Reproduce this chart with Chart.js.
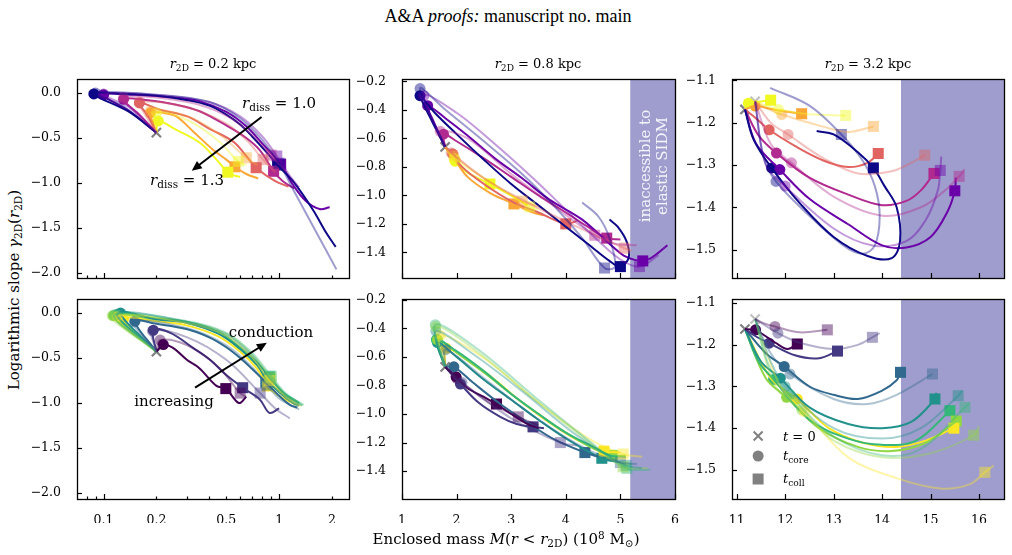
<!DOCTYPE html>
<html><head><meta charset="utf-8">
<script src="https://cdn.jsdelivr.net/npm/chart.js@4.4.1/dist/chart.umd.min.js"></script>
<style>
html,body{margin:0;padding:0;background:#fff;}
body{width:1012px;height:555px;position:relative;overflow:hidden;font-family:'DejaVu Serif',serif;color:#000;}
canvas{position:absolute;z-index:1;}
.t{position:absolute;white-space:nowrap;line-height:1;z-index:5;}
.c{transform:translate(-50%,-50%);}
.sb{font-size:0.7em;position:relative;top:0.3em;}
.sp{font-size:0.7em;position:relative;top:-0.45em;}
</style></head><body>
<div class="t c" style="left:508px;top:16px;font-family:'Liberation Serif',serif;font-size:18px;">A&amp;A <i>proofs:</i> manuscript no. main</div>
<div class="t c" style="left:213px;top:64px;font-size:13px;"><i>r</i><span class="sb">2D</span> = 0.2 kpc</div>
<div class="t c" style="left:538px;top:64px;font-size:13px;"><i>r</i><span class="sb">2D</span> = 0.8 kpc</div>
<div class="t c" style="left:868px;top:64px;font-size:13px;"><i>r</i><span class="sb">2D</span> = 3.2 kpc</div>
<div class="t" style="left:14px;top:290px;font-size:15px;transform:translate(-50%,-50%) rotate(-90deg);">Logarithmic slope <i>γ</i><span class="sb">2D</span>(<i>r</i><span class="sb">2D</span>)</div>
<div class="t c" style="left:506px;top:539px;font-size:15px;">Enclosed mass <i>M</i>(<i>r</i> &lt; <i>r</i><span class="sb">2D</span>) (10<span class="sp">8</span> M<span class="sb">⊙</span>)</div>
<div class="t c" style="left:279px;top:103px;font-size:15px;"><i>r</i><span class="sb">diss</span> = 1.0</div>
<div class="t c" style="left:187px;top:180px;font-size:15px;"><i>r</i><span class="sb">diss</span> = 1.3</div>
<div class="t c" style="left:271px;top:332px;font-size:15px;">conduction</div>
<div class="t c" style="left:174px;top:401px;font-size:15px;">increasing</div>
<div class="t" style="left:654px;top:166px;font-size:15px;color:#f4f4fb;text-align:center;line-height:1.15;transform:translate(-50%,-50%) rotate(-90deg);">inaccessible to<br>elastic SIDM</div>
<div class="t" style="left:783px;top:436px;font-size:13px;transform:translateY(-50%);"><i>t</i> = 0</div>
<div class="t" style="left:783px;top:456px;font-size:13px;transform:translateY(-50%);"><i>t</i><span class="sb">core</span></div>
<div class="t" style="left:783px;top:479px;font-size:13px;transform:translateY(-50%);"><i>t</i><span class="sb">coll</span></div>
<script>
// ---------- colours ----------
const plasma = ['#0d0887','#6a00a8','#b12a90','#e16462','#fca636','#f0f921'];
const viridis = ['#440154','#443983','#31688e','#21918c','#35b779','#90d743','#fde725'];

// ---------- tick values ----------
const xTicksLog = [0.1, 0.2, 0.5, 1, 2];
const xMinorLog = [0.08, 0.09, 0.2, 0.3, 0.4, 0.5, 0.6, 0.7, 0.8, 0.9, 2];
const xMajorLog = [0.1, 1];
const xTicksMid = [1, 2, 3, 4, 5, 6];
const xTicksRight = [11, 12, 13, 14, 15, 16];
const yTicksLeft = [0, -0.5, -1, -1.5, -2];
const yTicksMid = [-0.2, -0.4, -0.6, -0.8, -1.0, -1.2, -1.4];
const yTicksRight = [-1.1, -1.2, -1.3, -1.4, -1.5];

// ---------- r2D = 0.2 kpc, dissipation (top-left) ----------
const r02Start = [[0.2,-0.44]];
const r02Sim = [
 [[0.2,-0.44],[0.14,-0.21],[0.088,-0.01],[0.13,-0.01],[0.2,-0.03],[0.3,-0.08],[0.4,-0.14],[0.5,-0.24],[0.6,-0.35],[0.7,-0.48],[0.85,-0.66],[0.98,-0.8],[1.2,-0.98],[1.56,-1.3],[1.85,-1.55],[2.1,-1.71]],
 [[0.2,-0.44],[0.14,-0.2],[0.1,-0.02],[0.15,-0.02],[0.25,-0.05],[0.35,-0.09],[0.5,-0.21],[0.65,-0.37],[0.8,-0.56],[1.02,-0.79],[1.2,-1.02],[1.42,-1.2],[1.7,-1.29],[1.94,-1.27]],
 [[0.2,-0.44],[0.16,-0.24],[0.13,-0.07],[0.18,-0.08],[0.26,-0.13],[0.35,-0.2],[0.5,-0.36],[0.65,-0.5],[0.78,-0.64],[0.93,-0.87],[1.05,-0.98],[1.22,-1.06]],
 [[0.2,-0.44],[0.18,-0.26],[0.16,-0.11],[0.21,-0.185],[0.3,-0.26],[0.404,-0.4],[0.548,-0.54],[0.65,-0.7],[0.74,-0.83],[0.95,-0.98],[1.13,-1.04]],
 [[0.2,-0.44],[0.19,-0.32],[0.185,-0.22],[0.22,-0.22],[0.26,-0.26],[0.325,-0.43],[0.42,-0.63],[0.5,-0.74],[0.56,-0.82],[0.65,-0.9],[0.76,-0.95]],
 [[0.2,-0.44],[0.205,-0.31],[0.26,-0.41],[0.355,-0.556],[0.44,-0.74],[0.51,-0.88],[0.56,-0.92],[0.6,-0.93]]
];
const r02Model = [
 [[0.2,-0.44],[0.13,-0.15],[0.09,0.0],[0.2,-0.02],[0.4,-0.1],[0.6,-0.28],[0.8,-0.52],[1.0,-0.78],[1.2,-1.07],[1.56,-1.48],[2.12,-1.96]],
 [[0.2,-0.44],[0.14,-0.16],[0.1,-0.01],[0.2,-0.02],[0.4,-0.1],[0.6,-0.26],[0.8,-0.48],[0.97,-0.7],[1.15,-0.92],[1.3,-1.05]],
 [[0.2,-0.44],[0.15,-0.2],[0.13,-0.05],[0.3,-0.1],[0.5,-0.25],[0.7,-0.46],[0.9,-0.69],[1.1,-0.88]],
 [[0.2,-0.44],[0.17,-0.22],[0.16,-0.1],[0.3,-0.16],[0.5,-0.34],[0.65,-0.52],[0.81,-0.74],[0.95,-0.88]],
 [[0.2,-0.44],[0.185,-0.2],[0.3,-0.26],[0.45,-0.45],[0.65,-0.72],[0.75,-0.8]],
 [[0.2,-0.44],[0.2,-0.22],[0.3,-0.3],[0.45,-0.53],[0.585,-0.76],[0.65,-0.8]]
];
const r02CoreSim = [[0.088,-0.01],[0.1,-0.02],[0.13,-0.07],[0.16,-0.11],[0.185,-0.22],[0.205,-0.31]];
const r02CoreModel = [[0.09,0.0],[0.1,-0.01],[0.13,-0.05],[0.16,-0.1],[0.185,-0.2],[0.2,-0.22]];
const r02CollSim = [[0.98,-0.8],[1.02,-0.79],[0.93,-0.87],[0.74,-0.83],[0.56,-0.82],[0.51,-0.88]];
const r02CollModel = [[1.0,-0.78],[0.97,-0.7],[0.9,-0.69],[0.81,-0.74],[0.65,-0.72],[0.585,-0.76]];
const r02Arrow = [[0.794,-0.267,0.318,-0.863]];

// ---------- r2D = 0.8 kpc, dissipation (top-middle) ----------
const r08Start = [[1.79,-0.66]];
const r08Sim = [
 [[1.79,-0.66],[1.55,-0.48],[1.33,-0.3],[1.6,-0.42],[2.0,-0.57],[2.5,-0.75],[3.0,-0.92],[3.5,-1.07],[4.0,-1.22],[4.4,-1.34],[4.8,-1.46],[5.0,-1.5],[5.15,-1.44],[5.12,-1.33],[4.95,-1.22],[4.8,-1.17]],
 [[1.79,-0.66],[1.6,-0.5],[1.47,-0.37],[1.8,-0.46],[2.2,-0.58],[2.7,-0.74],[3.2,-0.88],[3.7,-1.03],[4.3,-1.17],[4.86,-1.36],[5.1,-1.43],[5.41,-1.46],[5.6,-1.43],[5.86,-1.35]],
 [[1.79,-0.66],[1.76,-0.57],[2.0,-0.62],[2.5,-0.74],[3.0,-0.87],[3.5,-1.0],[4.0,-1.12],[4.4,-1.22],[4.75,-1.3],[5.0,-1.31]],
 [[1.79,-0.66],[1.93,-0.71],[2.1,-0.8],[2.5,-0.92],[3.0,-1.04],[3.5,-1.12],[4.0,-1.2],[4.2,-1.18]],
 [[1.79,-0.66],[1.97,-0.75],[2.2,-0.87],[2.6,-0.98],[3.05,-1.06],[3.4,-1.12],[3.6,-1.14]],
 [[1.79,-0.66],[1.97,-0.76],[2.2,-0.84],[2.61,-0.92],[3.0,-1.0],[3.3,-1.07]]
];
const r08Model = [
 [[1.79,-0.66],[1.33,-0.25],[1.8,-0.4],[2.5,-0.62],[3.2,-0.85],[3.8,-1.08],[4.3,-1.3],[4.71,-1.51],[4.9,-1.5],[4.8,-1.3],[4.6,-1.15],[4.3,-1.05]],
 [[1.79,-0.66],[1.4,-0.3],[2.0,-0.42],[2.7,-0.64],[3.4,-0.88],[4.0,-1.1],[4.6,-1.32],[5.0,-1.45],[5.35,-1.5],[5.7,-1.42]],
 [[1.79,-0.66],[1.7,-0.55],[2.2,-0.6],[3.0,-0.85],[3.8,-1.08],[4.53,-1.28],[4.9,-1.34],[5.3,-1.35]],
 [[1.79,-0.66],[1.9,-0.7],[2.5,-0.88],[3.3,-1.05],[4.2,-1.22],[5.07,-1.37],[5.2,-1.39]],
 [[1.79,-0.66],[1.95,-0.72],[2.5,-0.88],[3.2,-1.04],[3.5,-1.08]],
 [[1.79,-0.66],[1.95,-0.74],[2.6,-0.9],[3.34,-1.08],[3.5,-1.1]]
];
const r08CoreSim = [[1.33,-0.3],[1.47,-0.37],[1.76,-0.57],[1.93,-0.71],[1.97,-0.75],[1.97,-0.76]];
const r08CoreModel = [[1.33,-0.25],[1.4,-0.3],[1.7,-0.55],[1.9,-0.7],[1.95,-0.72],[1.95,-0.74]];
const r08CollSim = [[5.0,-1.5],[5.41,-1.46],[4.75,-1.3],[4.0,-1.2],[3.05,-1.06],[2.61,-0.92]];
const r08CollModel = [[4.71,-1.51],[5.35,-1.5],[4.53,-1.28],[5.07,-1.37],[3.2,-1.04],[3.34,-1.08]];

// ---------- r2D = 3.2 kpc, dissipation (top-right) ----------
const r32Start = [[11.17,-1.169],[11.38,-1.15]];
const r32Sim = [
 [[11.17,-1.169],[11.35,-1.24],[11.72,-1.307],[12.3,-1.39],[13.0,-1.47],[13.7,-1.515],[14.2,-1.52],[14.37,-1.48],[14.3,-1.4],[14.05,-1.35],[13.82,-1.307],[13.5,-1.27],[13.0,-1.228],[12.65,-1.22]],
 [[11.17,-1.169],[11.4,-1.25],[11.89,-1.311],[12.5,-1.38],[13.3,-1.44],[14.0,-1.49],[14.5,-1.495],[15.0,-1.47],[15.35,-1.41],[15.5,-1.361],[15.52,-1.33]],
 [[11.17,-1.169],[11.45,-1.23],[11.82,-1.272],[12.5,-1.33],[13.3,-1.37],[14.0,-1.395],[14.5,-1.385],[14.8,-1.36],[15.07,-1.32]],
 [[11.17,-1.169],[11.4,-1.19],[11.67,-1.217],[12.2,-1.255],[12.8,-1.29],[13.3,-1.305],[13.7,-1.295],[13.92,-1.273]],
 [[11.17,-1.169],[11.38,-1.161],[11.8,-1.17],[12.34,-1.179]],
 [[11.17,-1.169],[11.24,-1.154],[11.5,-1.15],[11.7,-1.147]]
];
const r32Model = [
 [[11.38,-1.15],[11.55,-1.28],[11.81,-1.339],[12.5,-1.42],[13.2,-1.49],[13.6,-1.51],[13.85,-1.49],[13.95,-1.42],[13.85,-1.35],[13.6,-1.29],[13.16,-1.228],[12.5,-1.16],[11.69,-1.118]],
 [[11.38,-1.15],[11.6,-1.3],[12.0,-1.35],[13.0,-1.45],[13.8,-1.49],[14.5,-1.48],[14.9,-1.43],[15.15,-1.36],[15.2,-1.313],[15.22,-1.28]],
 [[11.38,-1.15],[11.7,-1.25],[12.13,-1.295],[13.0,-1.375],[14.0,-1.42],[14.8,-1.4],[15.3,-1.36],[15.59,-1.327],[15.7,-1.31]],
 [[11.38,-1.15],[11.7,-1.2],[12.06,-1.228],[12.8,-1.285],[13.5,-1.32],[14.2,-1.315],[14.6,-1.295],[14.88,-1.277]],
 [[11.38,-1.15],[11.6,-1.165],[11.93,-1.181],[12.8,-1.21],[13.3,-1.222],[13.82,-1.209]],
 [[11.38,-1.15],[11.6,-1.16],[11.86,-1.169],[12.5,-1.18],[13.25,-1.183]]
];
const r32CoreSim = [[11.72,-1.307],[11.89,-1.311],[11.82,-1.272],[11.67,-1.217],[11.38,-1.161],[11.24,-1.154]];
const r32CoreModel = [[11.81,-1.339],[12.0,-1.35],[12.13,-1.295],[12.06,-1.228],[11.93,-1.181],[11.86,-1.169]];
const r32CollSim = [[13.82,-1.307],[15.5,-1.361],[15.07,-1.32],[13.92,-1.273],[12.34,-1.179],[11.7,-1.147]];
const r32CollModel = [[13.16,-1.228],[15.2,-1.313],[15.59,-1.327],[14.88,-1.277],[13.82,-1.209],[13.25,-1.183]];

// ---------- r2D = 0.2 kpc, conduction (bottom-left) ----------
const c02Start = [[0.2,-0.43]];
const c02Sim = [
 [[0.2,-0.43],[0.219,-0.35],[0.25,-0.39],[0.298,-0.52],[0.35,-0.61],[0.44,-0.81],[0.497,-0.84],[0.59,-1.0],[0.65,-0.93]],
 [[0.2,-0.43],[0.192,-0.19],[0.24,-0.22],[0.325,-0.39],[0.404,-0.52],[0.5,-0.69],[0.62,-0.83],[0.776,-0.96],[0.88,-1.11],[1.0,-1.06]],
 [[0.2,-0.43],[0.151,-0.09],[0.2,-0.12],[0.3,-0.18],[0.4,-0.27],[0.5,-0.38],[0.6,-0.5],[0.7,-0.62],[0.84,-0.77],[1.0,-0.92],[1.15,-1.02],[1.27,-1.05]],
 [[0.2,-0.43],[0.125,0.0],[0.2,-0.07],[0.3,-0.11],[0.45,-0.23],[0.6,-0.4],[0.75,-0.58],[0.85,-0.74],[1.0,-0.88],[1.2,-1.0],[1.3,-1.03]],
 [[0.2,-0.43],[0.12,-0.02],[0.2,-0.06],[0.3,-0.1],[0.45,-0.21],[0.6,-0.38],[0.75,-0.55],[0.88,-0.71],[1.05,-0.88],[1.3,-1.0]],
 [[0.2,-0.43],[0.114,-0.03],[0.2,-0.07],[0.3,-0.11],[0.45,-0.22],[0.6,-0.4],[0.75,-0.58],[0.87,-0.76],[1.05,-0.9],[1.3,-1.01]],
 [[0.2,-0.43],[0.13,-0.07],[0.2,-0.09],[0.3,-0.14],[0.45,-0.26],[0.6,-0.43],[0.75,-0.62],[0.86,-0.81],[1.0,-0.92],[1.25,-1.02]]
];
const c02Model = [
 [[0.2,-0.43],[0.21,-0.3],[0.3,-0.36],[0.45,-0.6],[0.6,-0.89],[0.65,-0.93]],
 [[0.2,-0.43],[0.19,-0.2],[0.3,-0.27],[0.5,-0.52],[0.78,-0.89],[0.95,-1.06],[1.15,-1.17]],
 [[0.2,-0.43],[0.15,-0.1],[0.3,-0.17],[0.5,-0.36],[0.7,-0.6],[0.85,-0.8],[1.0,-0.95],[1.3,-1.07]],
 [[0.2,-0.43],[0.12,-0.01],[0.3,-0.1],[0.5,-0.24],[0.7,-0.47],[0.88,-0.72],[1.1,-0.92],[1.35,-1.03]],
 [[0.2,-0.43],[0.115,-0.02],[0.3,-0.09],[0.5,-0.22],[0.7,-0.44],[0.9,-0.7],[1.1,-0.9],[1.38,-1.02]],
 [[0.2,-0.43],[0.112,-0.03],[0.3,-0.1],[0.5,-0.23],[0.7,-0.46],[0.9,-0.72],[1.1,-0.92],[1.36,-1.03]],
 [[0.2,-0.43],[0.12,-0.04],[0.3,-0.11],[0.5,-0.25],[0.7,-0.49],[0.88,-0.75],[1.1,-0.94],[1.33,-1.04]]
];
const c02CoreSim = [[0.219,-0.35],[0.192,-0.19],[0.151,-0.09],[0.125,0.0],[0.12,-0.02],[0.114,-0.03],[0.13,-0.07]];
const c02CoreModel = [[0.21,-0.3],[0.19,-0.2],[0.15,-0.1],[0.12,-0.01],[0.115,-0.02],[0.112,-0.03],[0.12,-0.04]];
const c02CollSim = [[0.497,-0.84],[0.62,-0.83],[0.84,-0.77],[0.85,-0.74],[0.88,-0.71],[0.87,-0.76],[0.86,-0.81]];
const c02CollModel = [[0.6,-0.89],[0.78,-0.89],[0.85,-0.8],[0.88,-0.72],[0.9,-0.7],[0.9,-0.72],[0.88,-0.75]];
const c02Arrow = [[0.332,-0.83,0.851,-0.33]];

// ---------- r2D = 0.8 kpc, conduction (bottom-middle) ----------
const c08Start = [[1.79,-0.67]];
const c08Sim = [
 [[1.79,-0.67],[1.99,-0.74],[2.2,-0.82],[2.5,-0.88],[2.73,-0.93],[3.0,-1.0],[3.3,-1.07],[3.5,-1.1]],
 [[1.79,-0.67],[2.07,-0.79],[2.4,-0.92],[2.8,-1.02],[3.1,-1.07],[3.4,-1.09],[3.6,-1.1]],
 [[1.79,-0.67],[1.95,-0.67],[2.3,-0.78],[2.8,-0.93],[3.3,-1.06],[3.8,-1.18],[4.35,-1.27],[4.6,-1.3]],
 [[1.79,-0.67],[1.65,-0.5],[2.0,-0.6],[2.5,-0.76],[3.0,-0.9],[3.5,-1.04],[4.0,-1.17],[4.66,-1.31],[5.0,-1.34]],
 [[1.79,-0.67],[1.63,-0.48],[2.0,-0.56],[2.5,-0.7],[3.0,-0.86],[3.5,-1.0],[4.0,-1.13],[4.5,-1.23],[4.81,-1.29],[5.1,-1.3]],
 [[1.79,-0.67],[1.65,-0.48],[2.0,-0.57],[2.5,-0.71],[3.0,-0.86],[3.5,-1.0],[4.0,-1.13],[4.5,-1.24],[4.85,-1.29],[5.1,-1.29]],
 [[1.79,-0.67],[1.81,-0.54],[2.2,-0.62],[2.7,-0.76],[3.2,-0.92],[3.7,-1.06],[4.2,-1.18],[4.7,-1.26],[5.0,-1.27]]
];
const c08Model = [
 [[1.79,-0.67],[2.0,-0.75],[2.6,-0.92],[3.13,-1.02],[3.5,-1.08]],
 [[1.79,-0.67],[2.1,-0.78],[3.0,-1.03],[3.9,-1.2],[4.2,-1.22]],
 [[1.79,-0.67],[1.8,-0.55],[2.5,-0.75],[3.5,-1.04],[4.4,-1.25],[5.0,-1.34],[5.3,-1.35]],
 [[1.79,-0.67],[1.62,-0.42],[2.3,-0.58],[3.2,-0.84],[4.2,-1.15],[5.1,-1.36],[5.4,-1.38]],
 [[1.79,-0.67],[1.61,-0.375],[2.4,-0.55],[3.4,-0.87],[4.4,-1.18],[5.12,-1.38],[5.55,-1.39]],
 [[1.79,-0.67],[1.62,-0.39],[2.4,-0.57],[3.4,-0.89],[4.4,-1.19],[5.05,-1.37],[5.5,-1.38]],
 [[1.79,-0.67],[1.7,-0.45],[2.5,-0.61],[3.5,-0.92],[4.5,-1.19],[5.05,-1.28],[5.4,-1.3]]
];
const c08CoreSim = [[1.99,-0.74],[2.07,-0.79],[1.95,-0.67],[1.65,-0.5],[1.63,-0.48],[1.65,-0.48],[1.81,-0.54]];
const c08CoreModel = [[2.0,-0.75],[2.1,-0.78],[1.8,-0.55],[1.62,-0.42],[1.61,-0.375],[1.62,-0.39],[1.7,-0.45]];
const c08CollSim = [[2.73,-0.93],[3.4,-1.09],[4.35,-1.27],[4.66,-1.31],[4.81,-1.29],[4.85,-1.29],[4.7,-1.26]];
const c08CollModel = [[3.13,-1.02],[3.9,-1.2],[5.0,-1.34],[5.1,-1.36],[5.12,-1.38],[5.05,-1.37],[5.05,-1.28]];

// ---------- r2D = 3.2 kpc, conduction (bottom-right) ----------
const c32Start = [[11.17,-1.162],[11.38,-1.138]];
const c32Sim = [
 [[11.17,-1.162],[11.28,-1.163],[11.39,-1.164],[11.8,-1.195],[12.05,-1.21],[12.25,-1.198]],
 [[11.17,-1.162],[11.4,-1.18],[11.67,-1.196],[12.2,-1.225],[12.7,-1.232],[13.08,-1.215]],
 [[11.17,-1.162],[11.6,-1.22],[11.98,-1.252],[12.5,-1.3],[13.0,-1.32],[13.5,-1.33],[14.0,-1.31],[14.3,-1.285],[14.38,-1.266]],
 [[11.17,-1.162],[11.5,-1.24],[11.9,-1.28],[12.5,-1.35],[13.3,-1.39],[14.0,-1.4],[14.6,-1.385],[15.09,-1.33],[15.12,-1.315]],
 [[11.17,-1.162],[11.45,-1.24],[11.76,-1.283],[12.5,-1.38],[13.3,-1.425],[14.0,-1.44],[14.7,-1.43],[15.4,-1.358]],
 [[11.17,-1.162],[11.6,-1.28],[12.03,-1.326],[12.7,-1.4],[13.5,-1.445],[14.2,-1.455],[14.9,-1.435],[15.53,-1.383]],
 [[11.17,-1.162],[11.7,-1.28],[12.25,-1.33],[12.9,-1.4],[13.6,-1.435],[14.3,-1.445],[14.9,-1.43],[15.48,-1.4]]
];
const c32Model = [
 [[11.38,-1.138],[11.6,-1.15],[11.79,-1.156],[12.3,-1.17],[12.87,-1.164]],
 [[11.38,-1.138],[11.85,-1.172],[12.3,-1.195],[13.0,-1.21],[13.5,-1.2],[13.8,-1.182],[13.95,-1.172]],
 [[11.38,-1.138],[11.7,-1.22],[12.1,-1.27],[13.0,-1.33],[13.7,-1.342],[14.3,-1.32],[15.04,-1.27]],
 [[11.38,-1.138],[11.7,-1.24],[12.0,-1.3],[13.0,-1.4],[14.0,-1.425],[14.8,-1.4],[15.57,-1.322],[15.65,-1.31]],
 [[11.38,-1.138],[11.7,-1.26],[12.1,-1.32],[13.0,-1.42],[14.0,-1.465],[14.8,-1.45],[15.71,-1.35],[15.8,-1.34]],
 [[11.38,-1.138],[11.8,-1.3],[12.34,-1.356],[13.0,-1.43],[14.0,-1.47],[15.0,-1.46],[15.89,-1.417],[16.0,-1.395]],
 [[11.38,-1.138],[11.9,-1.3],[12.4,-1.36],[13.3,-1.47],[14.3,-1.52],[15.2,-1.545],[15.8,-1.535],[16.12,-1.506],[16.3,-1.49]]
];
const c32CoreSim = [[11.39,-1.164],[11.67,-1.196],[11.98,-1.252],[11.9,-1.28],[11.76,-1.283],[12.03,-1.326],[12.25,-1.33]];
const c32CoreModel = [[11.79,-1.156],[11.85,-1.172],[12.1,-1.27],[12.0,-1.3],[12.1,-1.32],[12.34,-1.356],[12.4,-1.36]];
const c32CollSim = [[12.25,-1.198],[13.08,-1.215],[14.38,-1.266],[15.09,-1.33],[15.4,-1.358],[15.53,-1.383],[15.48,-1.4]];
const c32CollModel = [[12.87,-1.164],[13.8,-1.182],[15.04,-1.27],[15.57,-1.322],[15.71,-1.35],[15.89,-1.417],[16.12,-1.506]];

// ---------- helpers ----------
const SHADE = '#9f9dcd';
const GRAY = '#808080';
function rgba(hex, a){const n=parseInt(hex.slice(1),16);return `rgba(${n>>16&255},${n>>8&255},${n&255},${a})`;}
const pts = arr => arr.map(p => ({x:p[0], y:p[1]}));
function fmtY(v){ if(Math.abs(v)<1e-9) return '0.0'; return (v<0?'\u2212':'')+Math.abs(v).toFixed(1); }

const PL=50, PT=10, PR=10, PB=24;

const panelPlugin = {
  id:'panelDeco',
  beforeDatasetsDraw(chart){
    const o = chart.options.plugins.panelDeco; const a = chart.chartArea; const ctx = chart.ctx;
    if(o.shadeFrom!=null){
      const x0 = chart.scales.x.getPixelForValue(o.shadeFrom);
      ctx.save(); ctx.fillStyle = SHADE; ctx.fillRect(x0, a.top, a.right-x0, a.bottom-a.top); ctx.restore();
    }
  },
  afterDatasetsDraw(chart){
    const o = chart.options.plugins.panelDeco; const a = chart.chartArea; const ctx = chart.ctx;
    const xs = chart.scales.x, ys = chart.scales.y;
    ctx.save();
    (o.arrows||[]).forEach(ar=>{
      const x1=xs.getPixelForValue(ar[0]), y1=ys.getPixelForValue(ar[1]);
      const x2=xs.getPixelForValue(ar[2]), y2=ys.getPixelForValue(ar[3]);
      const ang=Math.atan2(y2-y1,x2-x1), L=10, Wd=4.5;
      ctx.strokeStyle='#000'; ctx.fillStyle='#000'; ctx.lineWidth=2;
      ctx.beginPath(); ctx.moveTo(x1,y1); ctx.lineTo(x2-L*0.8*Math.cos(ang), y2-L*0.8*Math.sin(ang)); ctx.stroke();
      ctx.beginPath(); ctx.moveTo(x2,y2);
      ctx.lineTo(x2-L*Math.cos(ang)+Wd*Math.sin(ang), y2-L*Math.sin(ang)-Wd*Math.cos(ang));
      ctx.lineTo(x2-L*Math.cos(ang)-Wd*Math.sin(ang), y2-L*Math.sin(ang)+Wd*Math.cos(ang));
      ctx.closePath(); ctx.fill();
    });
    if(o.legend){
      const lx = a.left + 0.096*(a.right-a.left);
      const ly = o.legend.map(f => a.top + f*(a.bottom-a.top));
      ctx.strokeStyle=GRAY; ctx.fillStyle=GRAY; ctx.lineWidth=2;
      const r=4.5;
      ctx.beginPath(); ctx.moveTo(lx-r,ly[0]-r); ctx.lineTo(lx+r,ly[0]+r); ctx.moveTo(lx-r,ly[0]+r); ctx.lineTo(lx+r,ly[0]-r); ctx.stroke();
      ctx.beginPath(); ctx.arc(lx,ly[1],5.5,0,Math.PI*2); ctx.fill();
      ctx.fillRect(lx-5.5,ly[2]-5.5,11,11);
    }
    ctx.strokeStyle='#000'; ctx.lineWidth=1.2;
    const tick=(x,y,dx,dy)=>{ctx.beginPath();ctx.moveTo(x,y);ctx.lineTo(x+dx,y+dy);ctx.stroke();};
    o.yMajor.forEach(v=>{const y=Math.round(ys.getPixelForValue(v))+0.5; tick(a.left,y,5,0);});
    o.xMajor.forEach(v=>{const x=Math.round(xs.getPixelForValue(v))+0.5; tick(x,a.bottom,0,-5);});
    (o.xMinor||[]).forEach(v=>{const x=Math.round(xs.getPixelForValue(v))+0.5; tick(x,a.bottom,0,-2.5);});
    ctx.lineWidth=1.3; ctx.strokeStyle='#000';
    ctx.strokeRect(Math.round(a.left)+0.5, Math.round(a.top)+0.5, Math.round(a.right-a.left), Math.round(a.bottom-a.top));
    ctx.restore();
  }
};

function lineDS(arr, color, w){
  return {data:pts(arr), showLine:true, borderColor:color, borderWidth:w, pointRadius:0, pointHoverRadius:0, tension:0.35, fill:false, clip:0};
}
function markDS(arr, style, radius, colors){
  return {data:pts(arr), showLine:false, pointStyle:style, pointRadius:radius, pointHoverRadius:radius,
          pointBackgroundColor:colors, pointBorderWidth:0, pointBorderColor:colors, clip:0};
}

function makePanel(o){
  const c=document.createElement('canvas');
  c.width=o.w+PL+PR; c.height=o.h+PT+PB;
  c.style.left=(o.left-PL)+'px'; c.style.top=(o.top-PT)+'px';
  c.style.width=c.width+'px'; c.style.height=c.height+'px';
  document.body.appendChild(c);
  const ds=[];
  o.model.forEach((d,i)=>ds.push(lineDS(d, rgba(o.colors[i],0.4), 2)));
  ds.push(markDS(o.coreModel,'circle',5.5,o.colors.map(k=>rgba(k,0.45))));
  ds.push(markDS(o.collModel,'rect',7.8,o.colors.map(k=>rgba(k,0.45))));
  o.sim.forEach((d,i)=>ds.push(lineDS(d, o.colors[i], 2)));
  ds.push(markDS(o.coreSim,'circle',5.5,o.colors));
  ds.push(markDS(o.collSim,'rect',7.8,o.colors));
  ds.push({data:pts(o.start), showLine:false, pointStyle:'crossRot', pointRadius:6.5,
           pointBorderColor:o.start.map((p,i)=>i?rgba(GRAY,0.5):GRAY), pointBorderWidth:2.2, clip:0});
  const font={family:'DejaVu Serif', size:12.5};
  new Chart(c,{
    type:'scatter',
    data:{datasets:ds},
    options:{
      responsive:false, animation:false, devicePixelRatio:1, events:[],
      layout:{padding:{left:0,top:PT,right:PR,bottom:0}},
      plugins:{legend:{display:false}, tooltip:{enabled:false},
        panelDeco:{shadeFrom:o.shadeFrom, arrows:o.arrows, legend:o.legend, yMajor:o.yTicks, xMajor:o.xMajor, xMinor:o.xMinor}},
      scales:{
        x:{type:o.xType, min:o.xMin, max:o.xMax, grid:{display:false}, border:{display:false},
           afterFit:s=>{s.height=PB; s.paddingLeft=0; s.paddingRight=0;},
           afterBuildTicks:s=>{s.ticks=o.xTicks.map(v=>({value:v}));},
           ticks:{display:o.showX, autoSkip:false, maxRotation:0, minRotation:0, padding:6, color:'#000', font,
                  callback:v=>String(v)}},
        y:{type:'linear', min:o.yMin, max:o.yMax, grid:{display:false}, border:{display:false},
           afterFit:s=>{s.width=PL; s.paddingTop=0; s.paddingBottom=0;},
           afterBuildTicks:s=>{s.ticks=o.yTicks.map(v=>({value:v}));},
           ticks:{autoSkip:false, padding:8, color:'#000', font, callback:v=>fmtY(v)}}
      }
    },
    plugins:[panelPlugin]
  });
}

const colL=[77,402,732], colW=[272,273,272];
const rowT=[79,299], rowH=[199,200];

makePanel({left:colL[0],top:rowT[0],w:colW[0],h:rowH[0],xType:'logarithmic',xMin:0.0706,xMax:2.5,yMin:-2.056,yMax:0.156,
  xTicks:xTicksLog,xMajor:xMajorLog,xMinor:xMinorLog,yTicks:yTicksLeft,showX:false,colors:plasma,
  sim:r02Sim,model:r02Model,coreSim:r02CoreSim,coreModel:r02CoreModel,collSim:r02CollSim,collModel:r02CollModel,start:r02Start,arrows:r02Arrow});
makePanel({left:colL[1],top:rowT[0],w:colW[1],h:rowH[0],xType:'linear',xMin:1,xMax:6,yMin:-1.58,yMax:-0.183,
  xTicks:xTicksMid,xMajor:xTicksMid,yTicks:yTicksMid,showX:false,colors:plasma,shadeFrom:5.18,
  sim:r08Sim,model:r08Model,coreSim:r08CoreSim,coreModel:r08CoreModel,collSim:r08CollSim,collModel:r08CollModel,start:r08Start});
makePanel({left:colL[2],top:rowT[0],w:colW[2],h:rowH[0],xType:'linear',xMin:10.903,xMax:16.515,yMin:-1.567,yMax:-1.097,
  xTicks:xTicksRight,xMajor:xTicksRight,yTicks:yTicksRight,showX:false,colors:plasma,shadeFrom:14.39,
  sim:r32Sim,model:r32Model,coreSim:r32CoreSim,coreModel:r32CoreModel,collSim:r32CollSim,collModel:r32CollModel,start:r32Start});
makePanel({left:colL[0],top:rowT[1],w:colW[0],h:rowH[1],xType:'logarithmic',xMin:0.0706,xMax:2.5,yMin:-2.067,yMax:0.156,
  xTicks:xTicksLog,xMajor:xMajorLog,xMinor:xMinorLog,yTicks:yTicksLeft,showX:true,colors:viridis,
  sim:c02Sim,model:c02Model,coreSim:c02CoreSim,coreModel:c02CoreModel,collSim:c02CollSim,collModel:c02CollModel,start:c02Start,arrows:c02Arrow});
makePanel({left:colL[1],top:rowT[1],w:colW[1],h:rowH[1],xType:'linear',xMin:1,xMax:6,yMin:-1.595,yMax:-0.195,
  xTicks:xTicksMid,xMajor:xTicksMid,yTicks:yTicksMid,showX:true,colors:viridis,shadeFrom:5.18,
  sim:c08Sim,model:c08Model,coreSim:c08CoreSim,coreModel:c08CoreModel,collSim:c08CollSim,collModel:c08CollModel,start:c08Start});
makePanel({left:colL[2],top:rowT[1],w:colW[2],h:rowH[1],xType:'linear',xMin:10.903,xMax:16.515,yMin:-1.570,yMax:-1.090,
  xTicks:xTicksRight,xMajor:xTicksRight,yTicks:yTicksRight,showX:true,colors:viridis,shadeFrom:14.39,legend:[0.685,0.785,0.9],
  sim:c32Sim,model:c32Model,coreSim:c32CoreSim,coreModel:c32CoreModel,collSim:c32CollSim,collModel:c32CollModel,start:c32Start});
</script>
</body></html>
